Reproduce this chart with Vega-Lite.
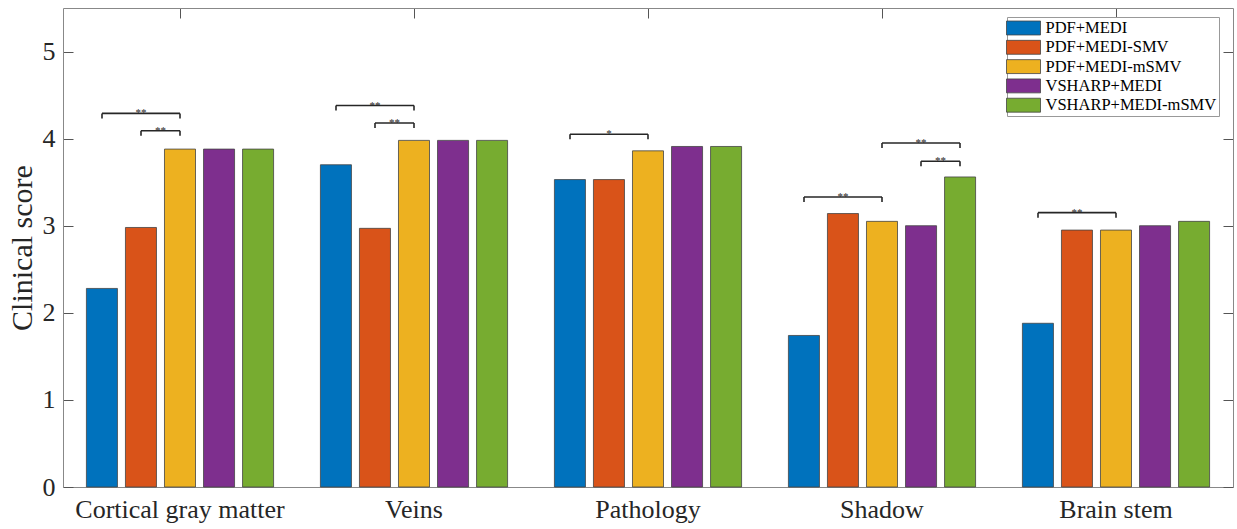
{
  "$schema": "https://vega.github.io/schema/vega-lite/v6.json",
  "width": 1170,
  "height": 479,
  "autosize": {"type": "none"},
  "padding": {"left": 63, "top": 8, "right": 4, "bottom": 42},
  "background": "white",
  "config": {"view": {"stroke": null}, "font": "Liberation Serif"},
  "datasets": {
    "scores": [
      {"region": "Cortical gray matter", "method": "PDF+MEDI", "score": 2.28},
      {"region": "Cortical gray matter", "method": "PDF+MEDI-SMV", "score": 2.98},
      {"region": "Cortical gray matter", "method": "PDF+MEDI-mSMV", "score": 3.88},
      {"region": "Cortical gray matter", "method": "VSHARP+MEDI", "score": 3.88},
      {"region": "Cortical gray matter", "method": "VSHARP+MEDI-mSMV", "score": 3.88},
      {"region": "Veins", "method": "PDF+MEDI", "score": 3.70},
      {"region": "Veins", "method": "PDF+MEDI-SMV", "score": 2.97},
      {"region": "Veins", "method": "PDF+MEDI-mSMV", "score": 3.98},
      {"region": "Veins", "method": "VSHARP+MEDI", "score": 3.98},
      {"region": "Veins", "method": "VSHARP+MEDI-mSMV", "score": 3.98},
      {"region": "Pathology", "method": "PDF+MEDI", "score": 3.53},
      {"region": "Pathology", "method": "PDF+MEDI-SMV", "score": 3.53},
      {"region": "Pathology", "method": "PDF+MEDI-mSMV", "score": 3.86},
      {"region": "Pathology", "method": "VSHARP+MEDI", "score": 3.91},
      {"region": "Pathology", "method": "VSHARP+MEDI-mSMV", "score": 3.91},
      {"region": "Shadow", "method": "PDF+MEDI", "score": 1.74},
      {"region": "Shadow", "method": "PDF+MEDI-SMV", "score": 3.14},
      {"region": "Shadow", "method": "PDF+MEDI-mSMV", "score": 3.05},
      {"region": "Shadow", "method": "VSHARP+MEDI", "score": 3.00},
      {"region": "Shadow", "method": "VSHARP+MEDI-mSMV", "score": 3.56},
      {"region": "Brain stem", "method": "PDF+MEDI", "score": 1.88},
      {"region": "Brain stem", "method": "PDF+MEDI-SMV", "score": 2.95},
      {"region": "Brain stem", "method": "PDF+MEDI-mSMV", "score": 2.95},
      {"region": "Brain stem", "method": "VSHARP+MEDI", "score": 3.00},
      {"region": "Brain stem", "method": "VSHARP+MEDI-mSMV", "score": 3.05}
    ],
    "brackets": [
      {"from": 1, "to": 3, "level": 4.29, "stars": "**"},
      {"from": 2, "to": 3, "level": 4.09, "stars": "**"},
      {"from": 7, "to": 9, "level": 4.38, "stars": "**"},
      {"from": 8, "to": 9, "level": 4.18, "stars": "**"},
      {"from": 13, "to": 15, "level": 4.05, "stars": "*"},
      {"from": 19, "to": 21, "level": 3.33, "stars": "**"},
      {"from": 21, "to": 23, "level": 3.95, "stars": "**"},
      {"from": 22, "to": 23, "level": 3.74, "stars": "**"},
      {"from": 25, "to": 27, "level": 3.15, "stars": "**"}
    ]
  },
  "layer": [
    {
      "data": {"name": "scores"},
      "mark": {"type": "bar", "stroke": "#444444", "strokeWidth": 0.8},
      "encoding": {
        "x": {
          "field": "region", "type": "nominal",
          "sort": ["Cortical gray matter", "Veins", "Pathology", "Shadow", "Brain stem"],
          "scale": {"paddingInner": 0, "paddingOuter": 0},
          "axis": {"orient": "bottom", "title": null, "labelAngle": 0, "labelFontSize": 26, "labelFont": "Liberation Serif", "labelColor": "#262626", "labelPadding": 19, "labelLimit": 400, "tickSize": -10, "tickColor": "#555555", "domainColor": "#888888", "grid": false}
        },
        "xOffset": {
          "field": "method", "type": "nominal",
          "sort": ["PDF+MEDI", "PDF+MEDI-SMV", "PDF+MEDI-mSMV", "VSHARP+MEDI", "VSHARP+MEDI-mSMV"],
          "scale": {"paddingInner": 0.205, "paddingOuter": 0.6}
        },
        "y": {
          "field": "score", "type": "quantitative",
          "scale": {"domain": [0, 5.5], "nice": false, "zero": true},
          "axis": {"orient": "left", "title": "Clinical score", "values": [0, 1, 2, 3, 4, 5], "format": "d", "tickSize": -10, "tickColor": "#555555", "domainColor": "#888888", "grid": false, "labelFontSize": 26, "labelFont": "Liberation Serif", "labelColor": "#262626", "labelPadding": 18, "titleFont": "Liberation Serif", "titleFontSize": 30, "titleFontWeight": "normal", "titleColor": "#262626", "titlePadding": 5}
        },
        "color": {
          "field": "method", "type": "nominal",
          "scale": {
            "domain": ["PDF+MEDI", "PDF+MEDI-SMV", "PDF+MEDI-mSMV", "VSHARP+MEDI", "VSHARP+MEDI-mSMV"],
            "range": ["#0072BD", "#D95319", "#EDB120", "#7E2F8E", "#77AC30"]
          },
          "legend": {
            "orient": "none", "legendX": 944, "legendY": 9, "title": null,
            "symbolType": "M-2,-0.82H2V0.82H-2Z", "symbolSize": 289, "symbolOffset": 5.5,
            "symbolStrokeColor": "#444444", "symbolStrokeWidth": 0.8,
            "labelFontSize": 16.5, "labelFont": "Liberation Serif", "labelColor": "#000000", "labelLimit": 300, "labelOffset": 13,
            "fillColor": "white", "strokeColor": "#999999", "padding": 2, "rowPadding": 1.3
          }
        }
      }
    },
    {
      "data": {"name": "brackets"},
      "mark": {"type": "rule", "color": "#262626", "strokeWidth": 1.6},
      "encoding": {
        "x": {"field": "from", "type": "quantitative", "scale": {"domain": [0, 30], "nice": false, "zero": false},
              "axis": {"orient": "top", "values": [3, 9, 15, 21, 27], "labels": false, "title": null, "tickSize": -10, "tickColor": "#555555", "domainColor": "#888888", "grid": false}},
        "x2": {"field": "to"},
        "y": {"field": "level", "type": "quantitative", "scale": {"domain": [0, 5.5], "nice": false},
              "axis": {"orient": "right", "values": [0, 1, 2, 3, 4, 5], "labels": false, "title": null, "tickSize": -10, "tickColor": "#555555", "domainColor": "#888888", "grid": false}}
      }
    },
    {
      "data": {"name": "brackets"},
      "mark": {"type": "rule", "color": "#262626", "strokeWidth": 1.6, "y2Offset": 5},
      "encoding": {
        "x": {"field": "from", "type": "quantitative", "scale": {"domain": [0, 30], "nice": false, "zero": false}, "axis": null},
        "y": {"field": "level", "type": "quantitative", "axis": null},
        "y2": {"field": "level"}
      }
    },
    {
      "data": {"name": "brackets"},
      "mark": {"type": "rule", "color": "#262626", "strokeWidth": 1.6, "y2Offset": 5},
      "encoding": {
        "x": {"field": "to", "type": "quantitative", "scale": {"domain": [0, 30], "nice": false, "zero": false}, "axis": null},
        "y": {"field": "level", "type": "quantitative", "axis": null},
        "y2": {"field": "level"}
      }
    },
    {
      "data": {"name": "brackets"},
      "transform": [{"fold": ["from", "to"], "as": ["end", "pos"]}],
      "mark": {"type": "text", "font": "Liberation Serif", "fontSize": 11, "color": "#262626", "baseline": "alphabetic", "dy": 3},
      "encoding": {
        "x": {"field": "pos", "type": "quantitative", "aggregate": "mean", "scale": {"domain": [0, 30], "nice": false, "zero": false}, "axis": null},
        "y": {"field": "level", "type": "quantitative", "axis": null},
        "text": {"field": "stars", "type": "nominal"}
      }
    }
  ],
  "resolve": {"scale": {"x": "independent"}, "axis": {"x": "independent", "y": "independent"}}
}
